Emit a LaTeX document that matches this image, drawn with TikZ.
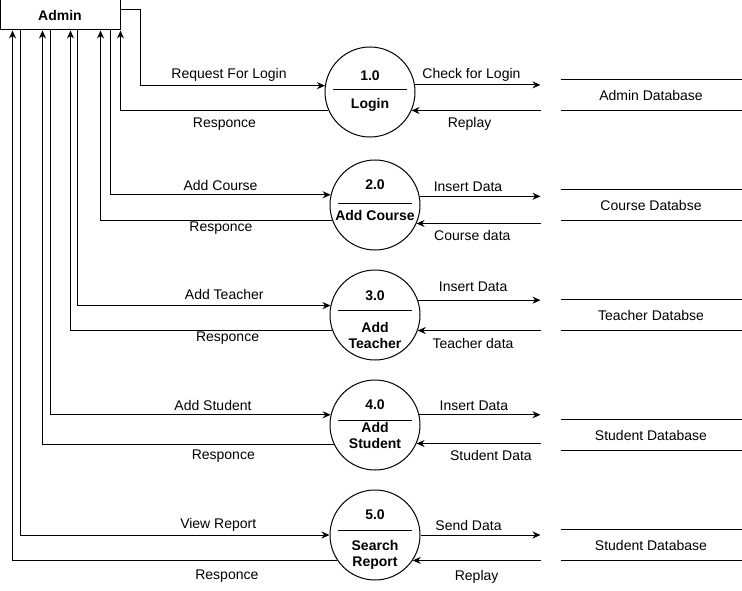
\documentclass[tikz,border=0pt]{standalone}
\usepackage{fontspec}
\setmainfont{Liberation Sans}
\usetikzlibrary{shapes,arrows.meta,positioning,calc}

\begin{document}
\begin{tikzpicture}[x=1pt, y=-1pt, line width=1pt, node distance=110pt, font=\fontsize{14}{16}\selectfont]
    % Define styles
    \tikzstyle{entity} = [rectangle, draw, minimum width=120pt, minimum height=30pt, font=\fontsize{14}{16}\selectfont\bfseries]
    \tikzstyle{proc} = [circle, draw, minimum size=90pt, inner sep=0pt]
    \tikzstyle{ptext} = [font=\fontsize{14}{16}\selectfont\bfseries, align=center, inner sep=0pt]
    \tikzstyle{store} = [minimum width=180pt, minimum height=30pt, inner sep=0pt]
    \tikzstyle{line} = [draw, -{Stealth[length=8pt,width=7pt]}]

    \useasboundingbox (0,0) rectangle (742,591);

    % Place nodes
    \node [entity] (admin) at (60,15) {Admin};
    \node [proc] (p1) at (370,92) {};
    \node [proc] (p2) at (375,205) {};
    \node [proc, below of=p2] (p3) {};
    \node [proc, below of=p3] (p4) {};
    \node [proc, below of=p4] (p5) {};

    \node [store, right=140pt of p1, yshift=-3pt, xshift=5pt] (s1) {Admin Database};
    \node [store, right=140pt of p2] (s2) {Course Databse};
    \node [store, right=140pt of p3] (s3) {Teacher Databse};
    \node [store, right=140pt of p4, yshift=-10pt] (s4) {Student Database};
    \node [store, right=140pt of p5, yshift=-10pt] (s5) {Student Database};

    % Process labels
    \foreach \p/\num/\name/\a/\b/\c in {p1/1.0/Login/-16/-2/13, p2/2.0/Add Course/-20/-2/10,
        p3/3.0/Add\\Teacher/-19/-5/20, p4/4.0/Add\\Student/-20/-5/10, p5/5.0/Search\\Report/-20/-5/20} {
        \node [ptext] at ($(\p)+(0,\a)$) {\num};
        \draw ($(\p)+(-37,\b)$) -- ($(\p)+(37,\b)$);
        \node [ptext] at ($(\p)+(0,\c)$) {\name};
    }

    % Data stores
    \foreach \s in {s1,s2,s3,s4,s5}
        \draw (\s.north west) -- (\s.north east) (\s.south west) -- (\s.south east);

    % Admin to processes
    \path [line] ([yshift=5pt]admin.east) -- ++(20,0) |- (p1.172) node[pos=0.74, above] {Request For Login};
    \path [line] (p1.204) -| (admin.south east) node[pos=0.25, below=4pt] {Responce};
    \path [line] ([xshift=-10pt]admin.south east) |- (p2.167) node[pos=0.75, above] {Add Course};
    \path [line] (p2.200) -| ([xshift=-20pt]admin.south east) node[pos=0.24, below=-3pt] {Responce};
    \path [line] ([xshift=-43pt]admin.south east) |- (p3.168) node[pos=0.79, above=2pt] {Add Teacher};
    \path [line] (p3.200) -| ([xshift=-50pt]admin.south east) node[pos=0.2, below=-3pt] {Responce};
    \path [line] ([xshift=-70pt]admin.south east) |- (p4.167) node[pos=0.79, above] {Add Student};
    \path [line] (p4.206) -| ([xshift=-78pt]admin.south east) node[pos=0.19, below=1pt] {Responce};
    \path [line] ([xshift=-100pt]admin.south east) |- (p5.west) node[pos=0.82, above] {View Report};
    \path [line] (p5.214) -| ([xshift=-108pt]admin.south east) node[pos=0.17, below=6pt] {Responce};

    % Processes to stores
    \path [line] (p1.9) -- ($(p1.9 -| s1.west)+(-20,0)$) node[pos=0.45, above] {Check for Login};
    \path [line] ($(p1.336 -| s1.west)+(-20,0)$) -- (p1.336) node[pos=0.55, below=3pt] {Replay};
    \path [line] (p2.11) -- ($(p2.11 -| s2.west)+(-20,0)$) node[pos=0.4, above=1pt] {Insert Data};
    \path [line] ($(p2.336 -| s2.west)+(-20,0)$) -- (p2.336) node[pos=0.55, below=3pt] {Course data};
    \path [line] (p3.19) -- ($(p3.19 -| s3.west)+(-20,0)$) node[pos=0.45, above=5pt] {Insert Data};
    \path [line] ($(p3.340 -| s3.west)+(-20,0)$) -- (p3.340) node[pos=0.55, below=4pt] {Teacher data};
    \path [line] (p4.13) -- ($(p4.13 -| s4.west)+(-20,0)$) node[pos=0.45, above] {Insert Data};
    \path [line] ($(p4.336 -| s4.west)+(-20,0)$) -- (p4.336) node[pos=0.4, below=3pt] {Student Data};
    \path [line] (p5.east) -- ($(p5.east -| s5.west)+(-20,0)$) node[pos=0.4, above=1pt] {Send Data};
    \path [line] ($(p5.326 -| s5.west)+(-20,0)$) -- (p5.326) node[pos=0.5, below=6pt] {Replay};
\end{tikzpicture}
\end{document}
